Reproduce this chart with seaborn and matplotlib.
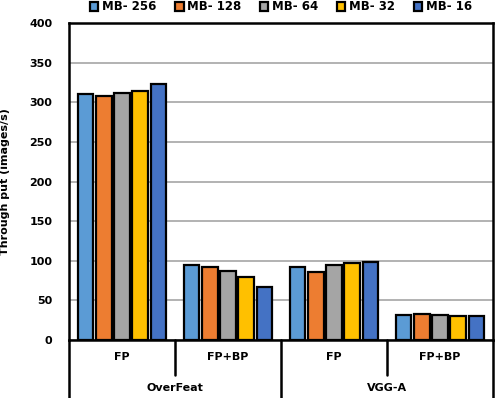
import matplotlib
matplotlib.use("Agg")
import matplotlib.pyplot as plt
import seaborn as sns
import pandas as pd

categories = ["OverFeat FP", "OverFeat FP+BP", "VGG-A FP", "VGG-A FP+BP"]
sub_labels = ["FP", "FP+BP", "FP", "FP+BP"]
group_labels = ["OverFeat", "VGG-A"]
series = ["MB- 256", "MB- 128", "MB- 64", "MB- 32", "MB- 16"]
mb256 = [310, 95, 92, 31]
mb128 = [308, 92, 86, 33]
mb64 = [312, 87, 95, 31]
mb32 = [314, 79, 97, 30]
mb16 = [323, 67, 99, 30]
colors = ["#5B9BD5", "#ED7D31", "#A5A5A5", "#FFC000", "#4472C4"]
yticks = [0, 50, 100, 150, 200, 250, 300, 350, 400]

rows = []
for name, vals in zip(series, [mb256, mb128, mb64, mb32, mb16]):
    for c, v in zip(categories, vals):
        rows.append({"cat": c, "mb": name, "val": v})
df = pd.DataFrame(rows)

sns.set_style("white")
plt.rcParams["font.family"] = ["DejaVu Sans"]
plt.rcParams["text.color"] = "black"
plt.rcParams["ytick.color"] = "black"
plt.rcParams["axes.labelcolor"] = "black"
fig = plt.figure(figsize=(4.96, 3.98), dpi=100)
W, H = 496, 398
ax = fig.add_axes([69 / W, (H - 340) / H, (493 - 69) / W, 317 / H])

sns.barplot(data=df, x="cat", y="val", hue="mb", order=categories, hue_order=series,
            palette=colors, saturation=1, width=0.86, gap=0.13, edgecolor="black",
            linewidth=1.6, ax=ax, zorder=3, errorbar=None)

ax.set_ylim(0, 400)
ax.set_xlim(-0.5, 3.5)
ax.set_yticks(yticks)
ax.set_yticklabels([str(t) for t in yticks], fontsize=8, fontweight="bold", color="black")
ax.tick_params(axis="y", length=0, pad=12)
ax.set_xticks([])
ax.set_xlabel("")
ax.set_ylabel("Through put (images/s)", fontsize=8, fontweight="bold", labelpad=14,
              color="black")
ax.yaxis.grid(True, color="#A6A6A6", linewidth=1.2, zorder=0)
ax.set_axisbelow(True)
for s in ax.spines.values():
    s.set_visible(True)
    s.set_color("black")
    s.set_linewidth(1.8)

# multi-level x axis
trans = ax.get_xaxis_transform()
px = 1 / 317
for i, lab in enumerate(sub_labels):
    ax.text(i, -17 * px, lab, transform=trans, ha="center", va="center",
            fontsize=8, fontweight="bold", color="black")
for j, lab in enumerate(group_labels):
    ax.text(2 * j + 0.5, -48 * px, lab, transform=trans, ha="center", va="center",
            fontsize=8, fontweight="bold", color="black")
for xb in [0.5, 2.5]:
    ax.plot([xb, xb], [0, -35 * px], transform=trans, color="black", lw=1.8, clip_on=False)
for xb in [-0.5, 1.5, 3.5]:
    ax.plot([xb, xb], [0, -60 * px], transform=trans, color="black", lw=1.8, clip_on=False)

handles, labels = ax.get_legend_handles_labels()
leg = ax.legend(handles, labels, ncol=5, loc="center", bbox_to_anchor=(281 / W, 1 - 7 / H),
                bbox_transform=fig.transFigure, frameon=False,
                prop={"weight": "bold", "size": 8.5}, handlelength=0.7, handleheight=0.7,
                handletextpad=0.3, columnspacing=1.6)
for t in leg.get_texts():
    t.set_color("black")

fig.savefig("out.png", dpi=100)
